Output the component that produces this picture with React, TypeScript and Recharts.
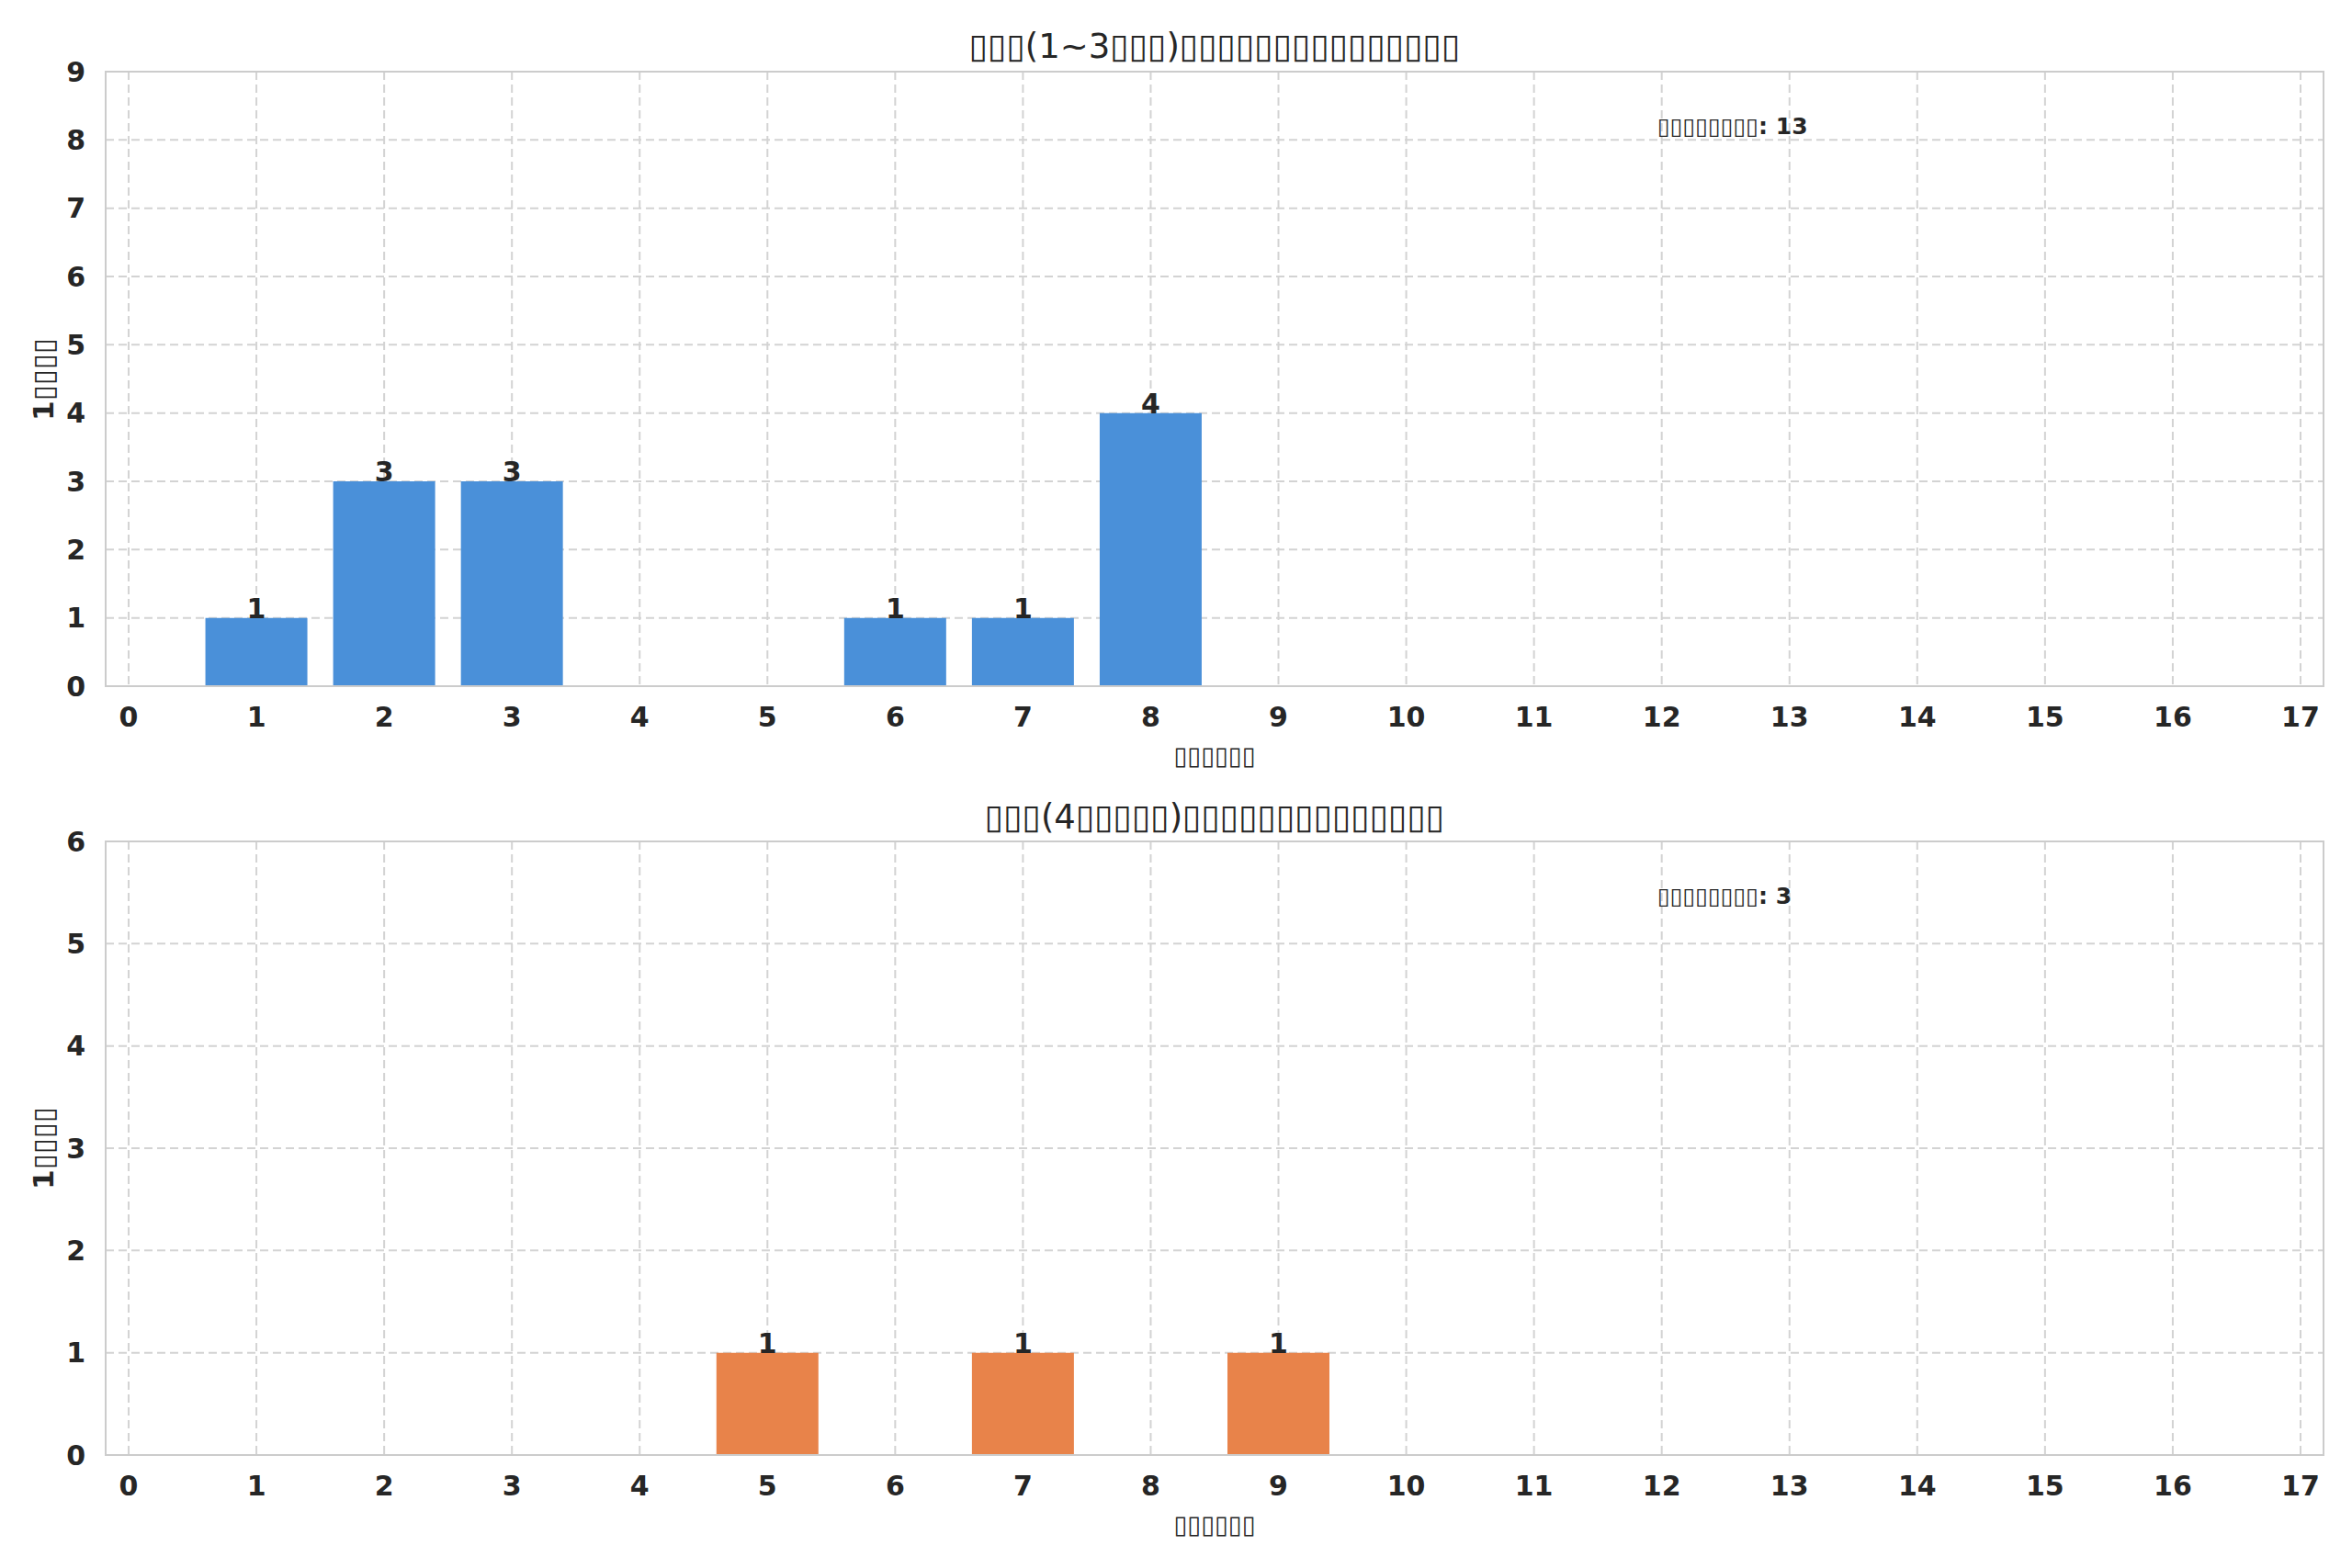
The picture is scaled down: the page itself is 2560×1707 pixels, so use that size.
import { BarChart, Bar, XAxis, YAxis, CartesianGrid, LabelList } from 'recharts';

// x positions (0..17) shared by both panels
const xTicks = [0, 1, 2, 3, 4, 5, 6, 7, 8, 9, 10, 11, 12, 13, 14, 15, 16, 17];
const shortCounts = [0, 1, 3, 3, 0, 0, 1, 1, 4, 0, 0, 0, 0, 0, 0, 0, 0, 0];
const longCounts = [0, 0, 0, 0, 0, 1, 0, 1, 0, 1, 0, 0, 0, 0, 0, 0, 0, 0];
const shortYTicks = [0, 1, 2, 3, 4, 5, 6, 7, 8, 9];
const longYTicks = [0, 1, 2, 3, 4, 5, 6];

const shortTitle = '▯▯▯(1~3▯▯▯)▯▯▯▯▯▯▯▯▯▯▯▯▯▯▯';
const longTitle = '▯▯▯(4▯▯▯▯▯)▯▯▯▯▯▯▯▯▯▯▯▯▯▯';
const xLabel = '▯▯▯▯▯▯';
const yLabel = '1▯▯▯▯';
const notePrefix = '▯▯▯▯▯▯▯▯';

const FONT = '"DejaVu Sans", sans-serif';
const INK = '#262626';
const GRID = '#d3d3d3';

const PLOT_LEFT = 115;
const PLOT_RIGHT = 2529;
const PLOT_W = PLOT_RIGHT - PLOT_LEFT;
const X_AXIS_H = 60;
const X_DOMAIN: [number, number] = [-0.18, 17.18];
const BAR_SIZE = Math.round((0.8 * PLOT_W) / (X_DOMAIN[1] - X_DOMAIN[0]));

const tickStyle = { fontFamily: FONT, fontSize: 30, fontWeight: 'bold', fill: INK };

function ValueLabel(props: any) {
  const { x, y, width, value } = props;
  if (!value) return null;
  return (
    <text
      x={Number(x) + Number(width) / 2}
      y={Number(y)}
      textAnchor="middle"
      fontFamily={FONT}
      fontSize={30}
      fontWeight="bold"
      fill={INK}
    >
      {value}
    </text>
  );
}

function Panel({
  top,
  height,
  plotTop,
  plotBottom,
  counts,
  yTicks,
  color,
  title,
  titleY,
}: {
  top: number;
  height: number;
  plotTop: number;
  plotBottom: number;
  counts: number[];
  yTicks: number[];
  color: string;
  title: string;
  titleY: number;
}) {
  const data = xTicks.map((x, i) => ({ x, count: counts[i] }));
  const total = counts.reduce((a, b) => a + b, 0);
  const plotH = plotBottom - plotTop;
  const yMax = yTicks[yTicks.length - 1];
  return (
    <div style={{ position: 'absolute', left: 0, top, width: 2560, height }}>
      <BarChart
        width={2560}
        height={height}
        data={data}
        margin={{
          top: plotTop,
          right: 2560 - PLOT_RIGHT,
          bottom: height - plotBottom - X_AXIS_H,
          left: 0,
        }}
      >
        <CartesianGrid stroke={GRID} strokeWidth={2} strokeDasharray="9 5" />
        <XAxis
          dataKey="x"
          type="number"
          domain={X_DOMAIN}
          ticks={xTicks}
          interval={0}
          height={X_AXIS_H}
          axisLine={false}
          tickLine={false}
          tickSize={0}
          tickMargin={23}
          tick={tickStyle}
        />
        <YAxis
          type="number"
          domain={[0, yMax]}
          ticks={yTicks}
          interval={0}
          width={PLOT_LEFT}
          axisLine={false}
          tickLine={false}
          tickSize={0}
          tickMargin={22}
          tick={tickStyle}
        />
        <Bar dataKey="count" fill={color} barSize={BAR_SIZE} isAnimationActive={false}>
          <LabelList dataKey="count" content={ValueLabel} />
        </Bar>
      </BarChart>

      {/* axes frame */}
      <div
        style={{
          position: 'absolute',
          left: PLOT_LEFT - 1,
          top: plotTop - 1,
          width: PLOT_W + 2,
          height: plotH + 2,
          border: '2px solid #cccccc',
          boxSizing: 'border-box',
          pointerEvents: 'none',
        }}
      />

      <div
        style={{
          position: 'absolute',
          left: PLOT_LEFT + PLOT_W / 2,
          top: titleY,
          transform: 'translate(-50%, -50%)',
          whiteSpace: 'nowrap',
          fontFamily: FONT,
          fontSize: 37,
          color: INK,
          lineHeight: 1,
        }}
      >
        {title}
      </div>

      <div
        style={{
          position: 'absolute',
          left: PLOT_LEFT + PLOT_W / 2,
          top: plotBottom + 75,
          transform: 'translate(-50%, -50%)',
          whiteSpace: 'nowrap',
          fontFamily: FONT,
          fontSize: 27,
          color: INK,
          lineHeight: 1,
        }}
      >
        {xLabel}
      </div>

      <div
        style={{
          position: 'absolute',
          left: 47,
          top: plotTop + plotH / 2,
          transform: 'translate(-50%, -50%) rotate(-90deg)',
          whiteSpace: 'nowrap',
          fontFamily: FONT,
          fontSize: 31,
          fontWeight: 'bold',
          color: INK,
          lineHeight: 1,
        }}
      >
        {yLabel}
      </div>

      <div
        style={{
          position: 'absolute',
          left: 1804,
          top: plotTop + 59,
          transform: 'translateY(-50%)',
          whiteSpace: 'nowrap',
          fontFamily: FONT,
          fontSize: 25,
          fontWeight: 'bold',
          color: INK,
          lineHeight: 1,
        }}
      >
        {notePrefix}: {total}
      </div>
    </div>
  );
}

export default function App() {
  return (
    <div style={{ position: 'absolute', left: 0, top: 0, width: 2560, height: 1707, background: '#ffffff' }}>
      <Panel
        top={0}
        height={853}
        plotTop={78}
        plotBottom={747}
        counts={shortCounts}
        yTicks={shortYTicks}
        color="#4a90d9"
        title={shortTitle}
        titleY={50}
      />
      <Panel
        top={853}
        height={854}
        plotTop={63}
        plotBottom={731}
        counts={longCounts}
        yTicks={longYTicks}
        color="#e8834a"
        title={longTitle}
        titleY={36}
      />
    </div>
  );
}
